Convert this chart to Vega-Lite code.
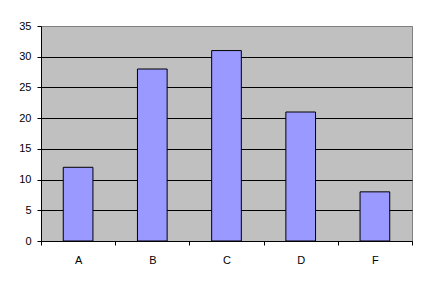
{
  "$schema": "https://vega.github.io/schema/vega-lite/v6.json",
  "width": 371,
  "height": 215,
  "autosize": {"type": "none"},
  "padding": {"left": 41, "top": 26, "right": 15, "bottom": 45},
  "background": "white",
  "data": {
    "values": [
      {"cat": "A", "value": 12},
      {"cat": "B", "value": 28},
      {"cat": "C", "value": 31},
      {"cat": "D", "value": 21},
      {"cat": "F", "value": 8}
    ]
  },
  "mark": {"type": "bar", "width": {"band": 0.4}, "fill": "#9999FF", "stroke": "black", "strokeWidth": 1},
  "encoding": {
    "x": {
      "field": "cat",
      "type": "nominal",
      "sort": null,
      "scale": {"paddingInner": 0, "paddingOuter": 0},
      "axis": {
        "title": null,
        "labelAngle": 0,
        "tickBand": "extent",
        "domainColor": "black",
        "tickColor": "black",
        "tickSize": 4,
        "labelPadding": 9,
        "grid": false
      }
    },
    "y": {
      "field": "value",
      "type": "quantitative",
      "scale": {"domain": [0, 35], "nice": false},
      "axis": {
        "title": null,
        "values": [0, 5, 10, 15, 20, 25, 30, 35],
        "grid": true,
        "gridColor": {"condition": {"test": "datum.value === 35", "value": "#808080"}, "value": "black"},
        "gridOpacity": 1,
        "domainColor": "black",
        "tickColor": "black",
        "tickSize": 4,
        "labelPadding": 6
      }
    }
  },
  "config": {
    "view": {"fill": "#C0C0C0", "stroke": "#808080"},
    "axis": {
      "labelFont": "Liberation Sans",
      "labelFontSize": 11,
      "labelColor": "black",
      "domainWidth": 1,
      "tickWidth": 1,
      "gridWidth": 1
    }
  }
}
